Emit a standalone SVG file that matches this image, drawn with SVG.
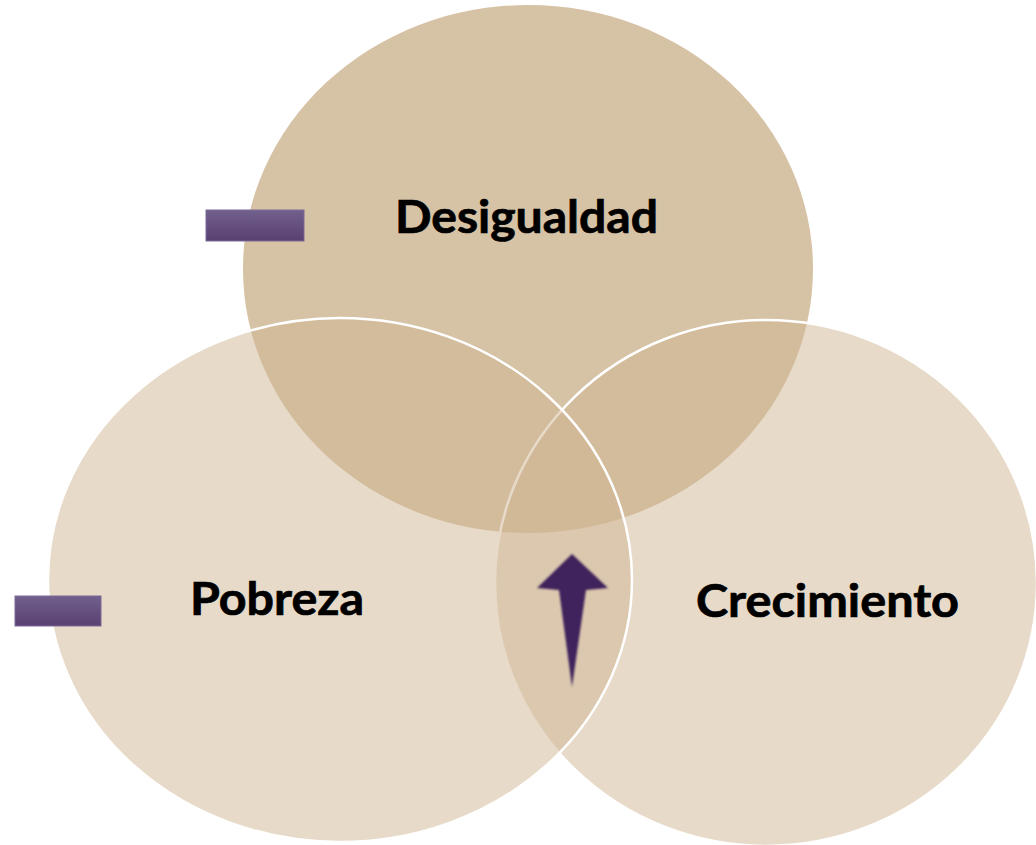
<svg xmlns="http://www.w3.org/2000/svg" width="1036" height="845" viewBox="0 0 1036 845">
  <defs>
    <style>
      .lbl { font-family: Lato, "Open Sans", "DejaVu Sans", sans-serif; font-weight: 700; font-size: 45px; fill: #000000; stroke: #000000; stroke-width: 0.7; }
      .soft { fill: #cfb694; fill-opacity: 0.5; stroke: #ffffff; stroke-width: 2.5; }
      .bar { fill: url(#barGrad); stroke: #7d6a98; stroke-width: 1; }
    </style>
    <linearGradient id="barGrad" x1="0" y1="0" x2="0" y2="1">
      <stop offset="0" stop-color="#71608c"/>
      <stop offset="1" stop-color="#5a4073"/>
    </linearGradient>
    <filter id="blur" x="-30%" y="-30%" width="160%" height="160%">
      <feGaussianBlur stdDeviation="0.8"/>
    </filter>
  </defs>
  <rect x="0" y="0" width="1036" height="845" fill="#ffffff"/>

  <g id="desigualdad">
    <ellipse cx="528" cy="269" rx="285" ry="264" fill="#d6c2a5"/>
  </g>
  <g id="crecimiento">
    <ellipse class="soft" cx="766" cy="583" rx="271" ry="263"/>
  </g>
  <g id="pobreza">
    <ellipse class="soft" cx="340" cy="580" rx="292" ry="262"/>
  </g>

  <g id="labels">
    <text class="lbl" x="395" y="233" textLength="263" lengthAdjust="spacingAndGlyphs">Desigualdad</text>
    <text class="lbl" x="190" y="615" textLength="174" lengthAdjust="spacingAndGlyphs">Pobreza</text>
    <text class="lbl" x="696" y="617" textLength="263" lengthAdjust="spacingAndGlyphs">Crecimiento</text>
  </g>

  <g id="minus-desigualdad">
    <rect class="bar" x="206" y="210" width="98" height="31"/>
  </g>
  <g id="minus-pobreza">
    <rect class="bar" x="15" y="596" width="86" height="30"/>
  </g>

  <g id="connectors">
    <polygon points="572,554 537,588 559,590 572,687 586,590 608,588" fill="#3f245b" filter="url(#blur)"/>
  </g>
</svg>
